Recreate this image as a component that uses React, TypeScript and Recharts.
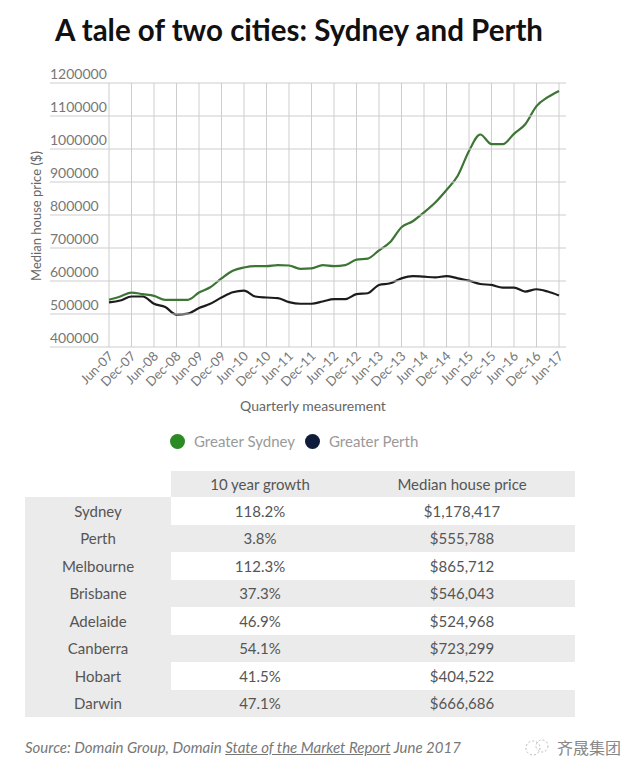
import React from 'react';
import { LineChart, Line, XAxis, YAxis, CartesianGrid } from 'recharts';

// quarterly measurement points, Jun-07 .. Jun-17
const quarters = [
  'Jun-07', 'Sep-07', 'Dec-07', 'Mar-08', 'Jun-08', 'Sep-08', 'Dec-08', 'Mar-09',
  'Jun-09', 'Sep-09', 'Dec-09', 'Mar-10', 'Jun-10', 'Sep-10', 'Dec-10', 'Mar-11',
  'Jun-11', 'Sep-11', 'Dec-11', 'Mar-12', 'Jun-12', 'Sep-12', 'Dec-12', 'Mar-13',
  'Jun-13', 'Sep-13', 'Dec-13', 'Mar-14', 'Jun-14', 'Sep-14', 'Dec-14', 'Mar-15',
  'Jun-15', 'Sep-15', 'Dec-15', 'Mar-16', 'Jun-16', 'Sep-16', 'Dec-16', 'Mar-17',
  'Jun-17',
];

const sydney = [
  543000, 553000, 565000, 560000, 555000, 543000, 543000, 543000,
  565000, 581000, 608000, 631000, 641000, 645000, 645000, 648000,
  647000, 637000, 638000, 648000, 645000, 648000, 665000, 668000,
  693000, 718000, 763000, 781000, 808000, 838000, 876000, 919000,
  994000, 1044000, 1015000, 1015000, 1046000, 1075000, 1130000, 1157000,
  1176000,
];

const perth = [
  535000, 541000, 553000, 553000, 531000, 521000, 498000, 501000,
  518000, 531000, 550000, 566000, 571000, 553000, 550000, 548000,
  536000, 531000, 531000, 538000, 545000, 545000, 560000, 563000,
  588000, 593000, 608000, 615000, 613000, 611000, 615000, 608000,
  601000, 591000, 588000, 580000, 580000, 568000, 575000, 568000,
  556000,
];

const yTicks = [400000, 500000, 600000, 700000, 800000, 900000, 1000000, 1100000, 1200000];

const cities = ['Sydney', 'Perth', 'Melbourne', 'Brisbane', 'Adelaide', 'Canberra', 'Hobart', 'Darwin'];
const growth = ['118.2%', '3.8%', '112.3%', '37.3%', '46.9%', '54.1%', '41.5%', '47.1%'];
const medianPrice = ['$1,178,417', '$555,788', '$865,712', '$546,043', '$524,968', '$723,299', '$404,522', '$666,686'];

const series = [
  { key: 'sydney', name: 'Greater Sydney', stroke: '#3c7534', dot: '#2a8a23' },
  { key: 'perth', name: 'Greater Perth', stroke: '#1c1c1c', dot: '#0f1d3d' },
];

const chartData = quarters.map((q, i) => ({ i, quarter: q, sydney: sydney[i], perth: perth[i] }));
// gridlines / labels every half year
const xTicks = quarters.map((q, i) => i).filter((i) => i % 2 === 0);

const FONT = 'Lato, "Open Sans", sans-serif';
const GRID = '#cdcdcd';
const GRAY_BG = '#ebebeb';

function YTick(props: any) {
  const { y, payload } = props;
  return (
    <g>
      <line x1={50} x2={566} y1={y} y2={y} stroke={GRID} strokeWidth={1} />
      <text x={50} y={y - 4} fill="#777" fontSize={14} fontFamily={FONT} textAnchor="start">
        {payload.value}
      </text>
    </g>
  );
}

function XTick(props: any) {
  const { x, payload } = props;
  const ax = x + 5;
  const ay = 357;
  return (
    <text
      x={ax}
      y={ay}
      fill="#777"
      fontSize={13}
      fontFamily={FONT}
      textAnchor="end"
      transform={`rotate(-45, ${ax}, ${ay})`}
    >
      {quarters[payload.value]}
    </text>
  );
}

export default function App() {
  return (
    <div
      style={{
        position: 'absolute',
        left: 0,
        top: 0,
        width: 640,
        height: 772,
        background: '#fff',
        fontFamily: FONT,
        overflow: 'hidden',
      }}
    >
      <div
        style={{
          position: 'absolute',
          left: 55,
          top: 12,
          fontSize: 29.5,
          fontWeight: 700,
          color: '#111',
          whiteSpace: 'nowrap',
          lineHeight: '36px',
        }}
      >
        A tale of two cities: Sydney and Perth
      </div>

      <div style={{ position: 'absolute', left: 0, top: 0 }}>
        <LineChart width={640} height={430} data={chartData} margin={{ top: 83, right: 81, bottom: 0, left: 50 }}>
          <CartesianGrid horizontal={false} stroke={GRID} />
          <XAxis
            dataKey="i"
            type="number"
            domain={[0, 40]}
            ticks={xTicks}
            interval={0}
            tick={<XTick />}
            tickLine={false}
            axisLine={false}
            height={83}
            label={{
              content: () => (
                <text x={313} y={411} textAnchor="middle" fill="#666" fontSize={14} fontFamily={FONT}>
                  Quarterly measurement
                </text>
              ),
            }}
          />
          <YAxis
            width={59}
            domain={[400000, 1200000]}
            ticks={yTicks}
            interval={0}
            tick={<YTick />}
            tickLine={false}
            axisLine={false}
            label={{
              content: () => (
                <text
                  x={41}
                  y={216}
                  textAnchor="middle"
                  fill="#666"
                  fontSize={13}
                  fontFamily={FONT}
                  transform="rotate(-90, 41, 216)"
                >
                  Median house price ($)
                </text>
              ),
            }}
          />
          {series.map((s) => (
            <Line
              key={s.key}
              type="monotone"
              dataKey={s.key}
              name={s.name}
              stroke={s.stroke}
              strokeWidth={2.2}
              dot={false}
              isAnimationActive={false}
            />
          ))}
        </LineChart>
      </div>

      {/* legend */}
      <div style={{ position: 'absolute', left: 170, top: 431, display: 'flex', alignItems: 'center', height: 20 }}>
        {series.map((s) => (
          <div key={s.key} style={{ display: 'flex', alignItems: 'center', marginRight: 10 }}>
            <span
              style={{
                display: 'inline-block',
                width: 15,
                height: 15,
                borderRadius: '50%',
                background: s.dot,
                marginRight: 9,
              }}
            />
            <span style={{ fontSize: 15, color: '#9a9a9a' }}>{s.name}</span>
          </div>
        ))}
      </div>

      {/* summary table */}
      <table
        style={{
          position: 'absolute',
          left: 25,
          top: 471,
          borderCollapse: 'collapse',
          fontSize: 15,
          color: '#555',
          fontFamily: FONT,
        }}
      >
        <thead>
          <tr style={{ height: 26 }}>
            <th style={{ width: 146, padding: 0, background: '#fff' }} />
            <th style={{ width: 178, padding: 0, background: GRAY_BG, fontWeight: 400 }}>10 year growth</th>
            <th style={{ width: 226, padding: 0, background: GRAY_BG, fontWeight: 400 }}>Median house price</th>
          </tr>
        </thead>
        <tbody>
          {cities.map((c, i) => {
            const bg = i % 2 === 1 ? GRAY_BG : '#fff';
            return (
              <tr key={c} style={{ height: 27.5 }}>
                <td style={{ padding: 0, textAlign: 'center', background: GRAY_BG }}>{c}</td>
                <td style={{ padding: 0, textAlign: 'center', background: bg }}>{growth[i]}</td>
                <td style={{ padding: 0, textAlign: 'center', background: bg }}>{medianPrice[i]}</td>
              </tr>
            );
          })}
        </tbody>
      </table>

      {/* source */}
      <div
        style={{
          position: 'absolute',
          left: 25,
          top: 738,
          fontSize: 15,
          fontStyle: 'italic',
          color: '#777',
          whiteSpace: 'nowrap',
        }}
      >
        Source: Domain Group, Domain <span style={{ textDecoration: 'underline' }}>State of the Market Report</span> June 2017
      </div>

      {/* watermark */}
      <div style={{ position: 'absolute', left: 523, top: 735, display: 'flex', alignItems: 'center' }}>
        <svg width={28} height={20}>
          <circle cx={10} cy={11} r={7} fill="none" stroke="#bbb" strokeDasharray="2 2" />
          <circle cx={19} cy={9} r={6} fill="none" stroke="#bbb" strokeDasharray="2 2" />
        </svg>
        <span style={{ fontFamily: '"Noto Sans CJK SC", sans-serif', fontSize: 16, color: '#888', marginLeft: 6 }}>
          齐晟集团
        </span>
      </div>
    </div>
  );
}
